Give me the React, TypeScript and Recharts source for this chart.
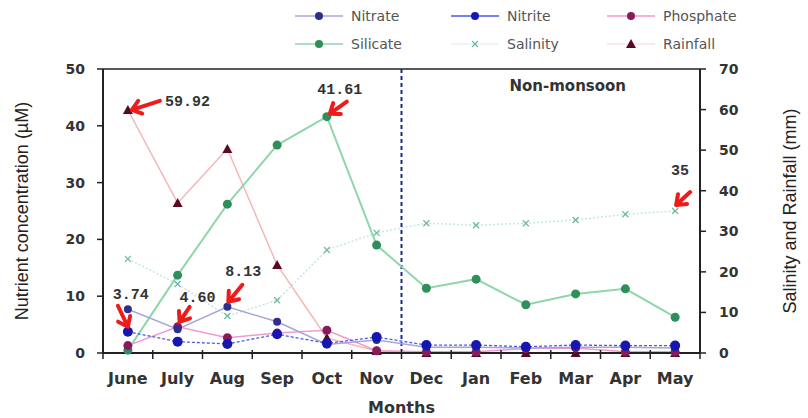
import React from "react";
import {
  ComposedChart,
  Line,
  XAxis,
  YAxis,
  ReferenceLine,
  ReferenceArea,
  ReferenceDot,
} from "recharts";

// months on the x axis
const months = ["June", "July", "Aug", "Sep", "Oct", "Nov", "Dec", "Jan", "Feb", "Mar", "Apr", "May"];

// nutrients, µM (left axis)
const nitrate = [7.7, 4.2, 8.13, 5.5, 1.5, 2.3, 1.0, 1.0, 0.9, 1.0, 1.0, 0.9];
const nitrite = [3.74, 2.0, 1.6, 3.3, 1.7, 2.8, 1.4, 1.4, 1.1, 1.4, 1.3, 1.3];
const phosphate = [1.3, 4.6, 2.7, 3.5, 4.0, 0.4, 0.2, 0.2, 0.8, 0.9, 0.2, 0.2];
const silicate = [0.5, 13.7, 26.2, 36.6, 41.61, 19.0, 11.4, 13.0, 8.5, 10.4, 11.3, 6.3];

// salinity and rainfall (right axis)
const salinity = [23.2, 17.0, 9.1, 13.0, 25.4, 29.6, 32.0, 31.5, 32.0, 32.8, 34.2, 35];
const rainfall = [59.92, 37.0, 50.3, 21.7, 3.7, 0.5, 0, 0, 0, 0, 0, 0];

const leftTicks = [0, 10, 20, 30, 40, 50];
const rightTicks = [0, 10, 20, 30, 40, 50, 60, 70];

const data = months.map((m, i) => ({
  x: i + 1,
  month: m,
  nitrate: nitrate[i],
  nitrite: nitrite[i],
  phosphate: phosphate[i],
  silicate: silicate[i],
  salinity: salinity[i],
  rainfall: rainfall[i],
}));

// centres get labels, half steps get the tick marks
const xTicks = [...months.flatMap((_, i) => [i + 0.5, i + 1]), months.length + 0.5];

// peak values called out with red arrows
const callouts = [
  { key: "rainfall", idx: 0, axis: "right", values: rainfall, digits: 2, tail: [32, -9], tip: [4, 0], text: [37, -4], anchor: "start" },
  { key: "silicate", idx: 4, axis: "left", values: silicate, digits: 2, tail: [20, -15], tip: [3, -3], text: [13, -23], anchor: "middle" },
  { key: "nitrite", idx: 0, axis: "left", values: nitrite, digits: 2, tail: [-10, -26], tip: [0, -5], text: [3, -33], anchor: "middle" },
  { key: "phosphate", idx: 1, axis: "left", values: phosphate, digits: 2, tail: [12, -20], tip: [2, -5], text: [20, -25], anchor: "middle" },
  { key: "nitrate", idx: 2, axis: "left", values: nitrate, digits: 2, tail: [15, -22], tip: [1, -5], text: [16, -31], anchor: "middle" },
  { key: "salinity", idx: 11, axis: "right", values: salinity, digits: 0, tail: [15, -19], tip: [1, -6], text: [5, -36], anchor: "middle" },
];

const C = {
  nitrateLine: "#aaa4dc",
  nitrateDot: "#2b2f8f",
  nitriteLine: "#4b5be6",
  nitriteDot: "#1616b0",
  phosLine: "#f09ad0",
  phosDot: "#8a1a5a",
  silLine: "#8fd6aa",
  silDot: "#2f8f5a",
  salLine: "#c4e8de",
  salDot: "#6fb8a8",
  rainLine: "#f5b8b8",
  rainDot: "#5a0a20",
  axis: "#222",
  text: "#333",
  arrow: "#ee1b1b",
};

const tickFont = { fill: C.text, fontSize: 14, fontWeight: "bold", fontFamily: "DejaVu Sans" };

function MonthTick(props: any) {
  const { x, y, payload } = props;
  const v = payload.value;
  if (Number.isInteger(v)) {
    return (
      <text x={x} y={y + 31} textAnchor="middle" fill={C.text} fontSize={16} fontWeight="bold" fontFamily="DejaVu Sans">
        {months[v - 1]}
      </text>
    );
  }
  return <line x1={x} x2={x} y1={y - 3} y2={y + 6} stroke={C.axis} strokeWidth={1.5} />;
}

function XMark(props: any) {
  const { cx, cy } = props;
  if (cx == null || cy == null) return <g key={props.index} />;
  return (
    <g key={props.index} stroke={C.salDot} strokeWidth={1.3}>
      <line x1={cx - 3} y1={cy - 3} x2={cx + 3} y2={cy + 3} />
      <line x1={cx - 3} y1={cy + 3} x2={cx + 3} y2={cy - 3} />
    </g>
  );
}

function Tri(props: any) {
  const { cx, cy } = props;
  if (cx == null || cy == null) return <g key={props.index} />;
  return <path key={props.index} d={`M${cx},${cy - 5}L${cx + 5},${cy + 4}L${cx - 5},${cy + 4}Z`} fill={C.rainDot} />;
}

function Callout(c: any) {
  return (props: any) => {
    const { cx, cy } = props;
    const x1 = cx + c.tail[0];
    const y1 = cy + c.tail[1];
    const x2 = cx + c.tip[0];
    const y2 = cy + c.tip[1];
    const len = Math.hypot(x2 - x1, y2 - y1);
    const ux = (x2 - x1) / len;
    const uy = (y2 - y1) / len;
    const h = 11;
    const a = 0.65;
    const hx1 = x2 - h * (ux * Math.cos(a) - uy * Math.sin(a));
    const hy1 = y2 - h * (uy * Math.cos(a) + ux * Math.sin(a));
    const hx2 = x2 - h * (ux * Math.cos(a) + uy * Math.sin(a));
    const hy2 = y2 - h * (uy * Math.cos(a) - ux * Math.sin(a));
    return (
      <g>
        <path
          d={`M${x1},${y1}L${x2},${y2}M${hx1},${hy1}L${x2},${y2}L${hx2},${hy2}`}
          stroke={C.arrow}
          strokeWidth={4}
          strokeLinecap="round"
          strokeLinejoin="round"
          fill="none"
        />
        <text
          x={cx + c.text[0]}
          y={cy + c.text[1]}
          textAnchor={c.anchor}
          fill={C.text}
          fontSize={15}
          fontWeight="bold"
          fontFamily="Liberation Mono"
        >
          {c.values[c.idx].toFixed(c.digits)}
        </text>
      </g>
    );
  };
}

const legendItems = [
  { name: "Nitrate", line: C.nitrateLine, dot: C.nitrateDot, kind: "circle" },
  { name: "Nitrite", line: C.nitriteLine, dot: C.nitriteDot, kind: "circle" },
  { name: "Phosphate", line: C.phosLine, dot: C.phosDot, kind: "circle" },
  { name: "Silicate", line: C.silLine, dot: C.silDot, kind: "circle" },
  { name: "Salinity", line: "#e8f5f1", dot: C.salDot, kind: "x" },
  { name: "Rainfall", line: "#fbe2e2", dot: C.rainDot, kind: "tri" },
];

function LegendBox() {
  return (
    <div style={{ position: "absolute", left: 293, top: 6, width: 480 }}>
      {legendItems.map((it, i) => (
        <div
          key={it.name}
          style={{
            position: "absolute",
            left: (i % 3) * 156,
            top: Math.floor(i / 3) * 28,
            display: "flex",
            alignItems: "center",
            fontFamily: "DejaVu Sans",
            fontSize: 14,
            color: "#555",
          }}
        >
          <svg width={54} height={20}>
            <line x1={2} x2={50} y1={10} y2={10} stroke={it.line} strokeWidth={1.5} />
            {it.kind === "circle" && <circle cx={26} cy={10} r={4} fill={it.dot} />}
            {it.kind === "x" && (
              <g stroke={it.dot} strokeWidth={1.2}>
                <line x1={23} y1={7} x2={29} y2={13} />
                <line x1={23} y1={13} x2={29} y2={7} />
              </g>
            )}
            {it.kind === "tri" && <path d="M26,5L31,14L21,14Z" fill={it.dot} />}
          </svg>
          <span style={{ marginLeft: 4 }}>{it.name}</span>
        </div>
      ))}
    </div>
  );
}

export default function App() {
  return (
    <div style={{ position: "absolute", left: 0, top: 0, width: 808, height: 418, background: "#fff" }}>
      <ComposedChart width={808} height={418} data={data} margin={{ top: 69, right: 20, bottom: 5, left: 20 }}>
        <XAxis
          dataKey="x"
          type="number"
          domain={[0.5, 12.5]}
          ticks={xTicks}
          interval={0}
          tick={<MonthTick />}
          tickLine={false}
          tickSize={0}
          tickMargin={0}
          height={60}
          axisLine={{ stroke: C.axis, strokeWidth: 2 }}
          label={{
            value: "Months",
            position: "insideBottom",
            offset: 0,
            fill: C.text,
            fontSize: 16,
            fontWeight: "bold",
            fontFamily: "DejaVu Sans",
          }}
        />
        <YAxis
          yAxisId="left"
          domain={[0, 50]}
          ticks={leftTicks}
          width={83}
          tick={tickFont}
          tickMargin={12}
          tickLine={{ stroke: C.axis, strokeWidth: 1.5 }}
          axisLine={{ stroke: C.axis, strokeWidth: 2 }}
          label={{
            value: "Nutrient concentration (\u00b5M)",
            angle: -90,
            position: "insideLeft",
            offset: 2,
            style: { textAnchor: "middle", fill: "#222", fontSize: 18, fontFamily: "Liberation Sans" },
          }}
        />
        <YAxis
          yAxisId="right"
          orientation="right"
          domain={[0, 70]}
          ticks={rightTicks}
          width={88}
          tick={tickFont}
          tickMargin={13}
          tickLine={{ stroke: C.axis, strokeWidth: 1.5 }}
          axisLine={{ stroke: C.axis, strokeWidth: 2 }}
          label={{
            value: "Salinity and Rainfall (mm)",
            angle: -90,
            position: "insideRight",
            offset: -2,
            style: { textAnchor: "middle", fill: "#222", fontSize: 18, fontFamily: "Liberation Sans" },
          }}
        />
        <ReferenceLine yAxisId="left" y={50} stroke={C.axis} strokeWidth={1.5} />
        <ReferenceArea
          yAxisId="left"
          x1={6.5}
          x2={12.5}
          y1={0}
          y2={50}
          fill="none"
          fillOpacity={0}
          label={(p: any) => {
            const vb = p.viewBox || {};
            return (
              <text
                x={vb.x + vb.width / 2 + 17}
                y={vb.y + 22}
                textAnchor="middle"
                fill={C.text}
                fontSize={15}
                fontWeight="bold"
                fontFamily="DejaVu Sans"
              >
                Non-monsoon
              </text>
            );
          }}
        />
        <ReferenceLine yAxisId="left" x={6.5} stroke="#1c2a8c" strokeWidth={2} strokeDasharray="4 3" />

        <Line yAxisId="right" dataKey="salinity" stroke={C.salLine} strokeWidth={1.5} strokeDasharray="2 2" dot={(p: any) => <XMark {...p} key={p.index} />} activeDot={false} isAnimationActive={false} />
        <Line yAxisId="right" dataKey="rainfall" stroke={C.rainLine} strokeWidth={1.5} dot={(p: any) => <Tri {...p} key={p.index} />} activeDot={false} isAnimationActive={false} />
        <Line yAxisId="left" dataKey="silicate" stroke={C.silLine} strokeWidth={2} dot={{ r: 4.5, fill: C.silDot, stroke: C.silDot, strokeWidth: 0 }} activeDot={false} isAnimationActive={false} />
        <Line yAxisId="left" dataKey="phosphate" stroke={C.phosLine} strokeWidth={1.5} dot={{ r: 4.5, fill: C.phosDot, stroke: C.phosDot, strokeWidth: 0 }} activeDot={false} isAnimationActive={false} />
        <Line yAxisId="left" dataKey="nitrate" stroke={C.nitrateLine} strokeWidth={1.5} dot={{ r: 4, fill: C.nitrateDot, stroke: C.nitrateDot, strokeWidth: 0 }} activeDot={false} isAnimationActive={false} />
        <Line yAxisId="left" dataKey="nitrite" stroke={C.nitriteLine} strokeWidth={1.3} strokeDasharray="3 2" dot={{ r: 5, fill: C.nitriteDot, stroke: C.nitriteDot, strokeWidth: 0 }} activeDot={false} isAnimationActive={false} />

        {callouts.map((c) => (
          <ReferenceDot
            key={c.key}
            yAxisId={c.axis}
            x={c.idx + 1}
            y={c.values[c.idx]}
            shape={Callout(c)}
          />
        ))}
      </ComposedChart>
      <LegendBox />
    </div>
  );
}
